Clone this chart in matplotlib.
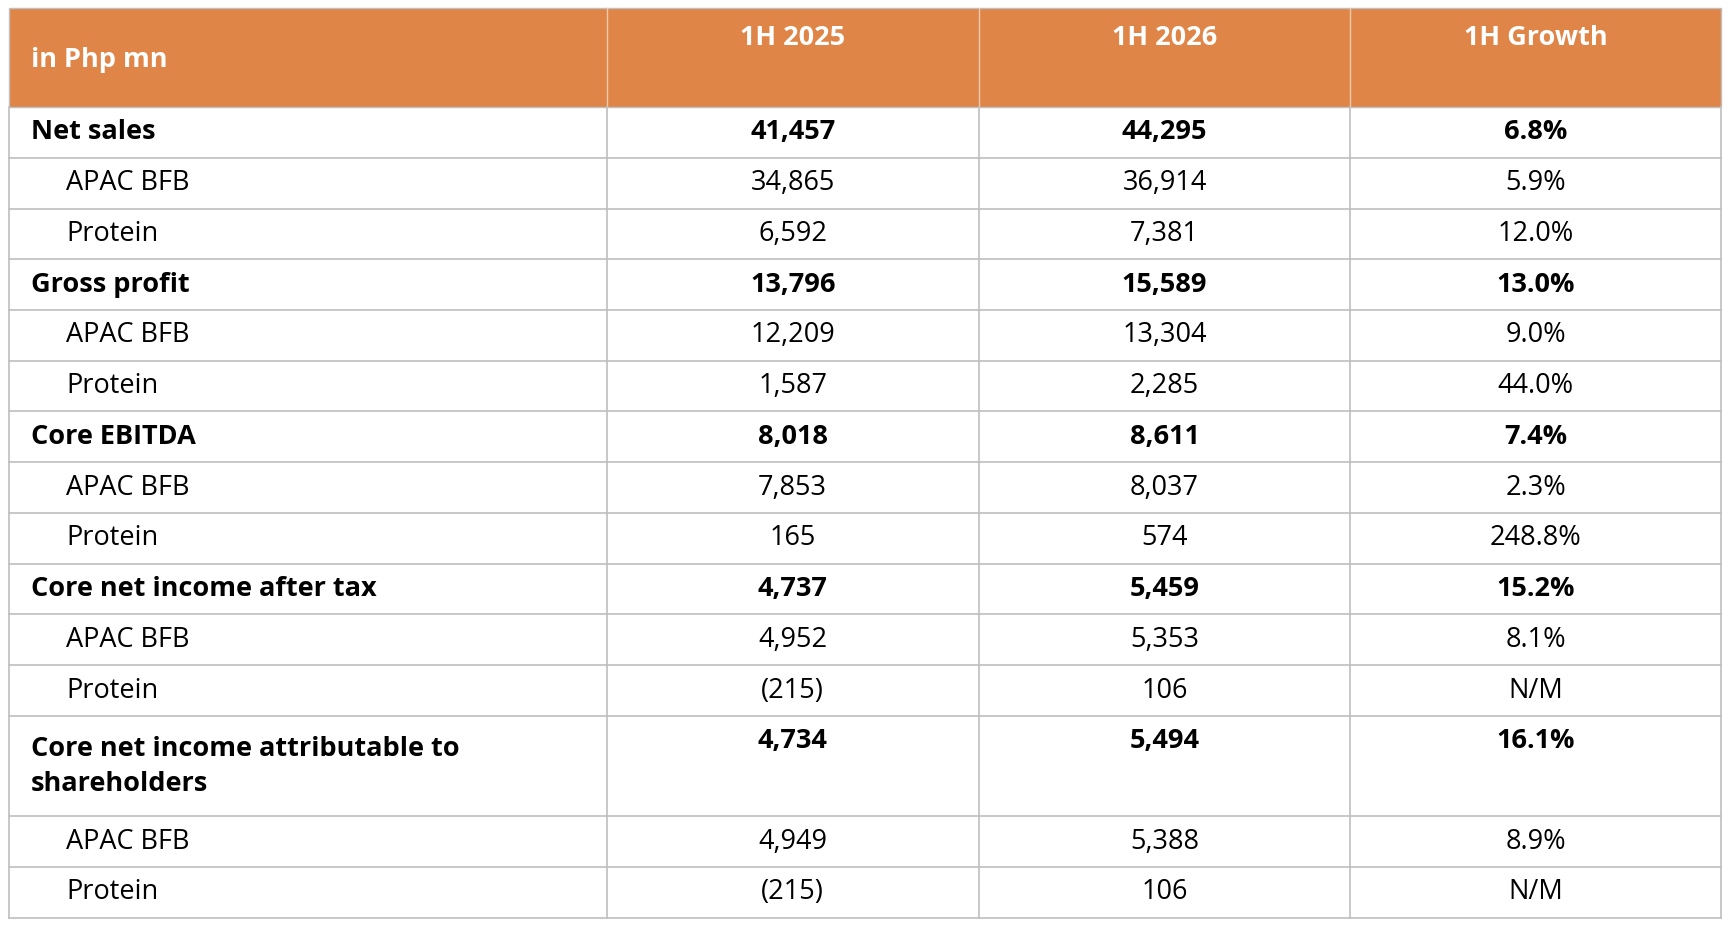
import matplotlib.pyplot as plt
from matplotlib.patches import Rectangle

plt.rcParams['font.family'] = ['Open Sans', 'DejaVu Sans']

header = ["in Php mn", "1H 2025", "1H 2026", "1H Growth"]
labels = ["Net sales", "APAC BFB", "Protein",
          "Gross profit", "APAC BFB", "Protein",
          "Core EBITDA", "APAC BFB", "Protein",
          "Core net income after tax", "APAC BFB", "Protein",
          "Core net income attributable to\nshareholders", "APAC BFB", "Protein"]
h1_2025 = ["41,457", "34,865", "6,592", "13,796", "12,209", "1,587",
           "8,018", "7,853", "165", "4,737", "4,952", "(215)",
           "4,734", "4,949", "(215)"]
h1_2026 = ["44,295", "36,914", "7,381", "15,589", "13,304", "2,285",
           "8,611", "8,037", "574", "5,459", "5,353", "106",
           "5,494", "5,388", "106"]
growth = ["6.8%", "5.9%", "12.0%", "13.0%", "9.0%", "44.0%",
          "7.4%", "2.3%", "248.8%", "15.2%", "8.1%", "N/M",
          "16.1%", "8.9%", "N/M"]
bold = [True, False, False] * 5

W, H = 1568, 843
col_x = [8, 550, 887, 1224, 1560]
header_h = 90
row_h = [46] * 12 + [91, 46, 46]
grid = "#BFBFBF"
orange = "#DF8548"
fs = 19.5

fig = plt.figure(figsize=(17.3, 9.3), dpi=100)
ax = fig.add_axes([0, 0, 1, 1])
ax.set_xlim(0, W)
ax.set_ylim(H, 0)
ax.axis("off")

top = 7
ax.add_patch(Rectangle((col_x[0], top), col_x[-1] - col_x[0], header_h,
                       facecolor=orange, edgecolor=grid, lw=1))
for x in col_x[1:-1]:
    ax.plot([x, x], [top, top + header_h], color="#F2C9AC", lw=1)
ax.text(28, top + 47, header[0], color="white", fontsize=fs,
        fontweight="bold", va="center", ha="left")
for i in range(1, 4):
    ax.text((col_x[i] + col_x[i + 1]) / 2, top + 27, header[i], color="white",
            fontsize=fs, fontweight="bold", va="center", ha="center")

y = top + header_h
for r, lab in enumerate(labels):
    h = row_h[r]
    cy = y + 23
    wt = "bold" if bold[r] else "normal"
    if bold[r]:
        ax.text(28, y + h / 2, lab, fontsize=fs, fontweight=wt, va="center",
                ha="left", linespacing=1.45)
    else:
        ax.text(60, cy, lab, fontsize=fs, va="center", ha="left")
    for i, vals in enumerate([h1_2025, h1_2026, growth]):
        ax.text((col_x[i + 1] + col_x[i + 2]) / 2, cy, vals[r], fontsize=fs,
                fontweight=wt, va="center", ha="center")
    y += h
    ax.plot([col_x[0], col_x[-1]], [y, y], color=grid, lw=1.2)

for x in col_x:
    ax.plot([x, x], [top + header_h, y], color=grid, lw=1.2)

fig.savefig("out.png", dpi=100)
